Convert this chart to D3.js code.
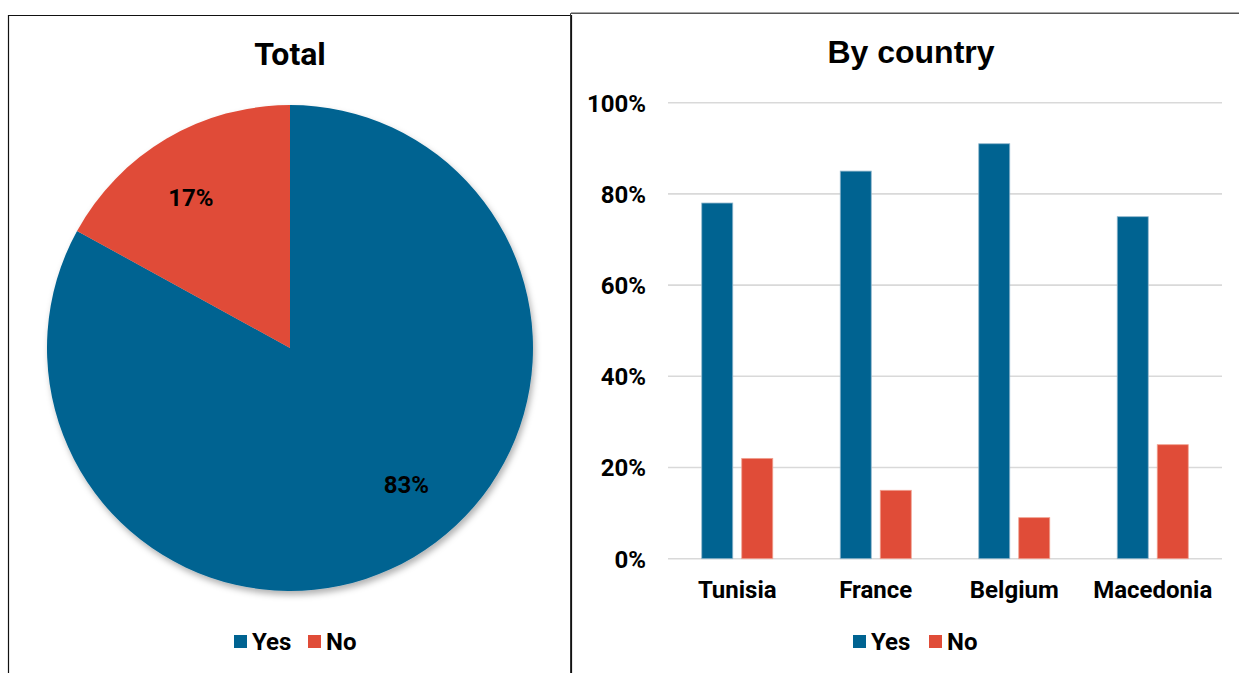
<!DOCTYPE html>
<html><head><meta charset="utf-8">
<script src="https://cdn.jsdelivr.net/npm/d3@7"></script>
<style>
html,body{margin:0;padding:0;background:#fff;}
svg{display:block;}
</style></head>
<body>
<svg id="c" width="1239" height="673"></svg>
<script>
const pieLabels = ["Yes", "No"];
const pieValues = [83, 17];
const countries = ["Tunisia", "France", "Belgium", "Macedonia"];
const yesValues = [78, 85, 91, 75];
const noValues = [22, 15, 9, 25];
const seriesNames = ["Yes", "No"];
const yTicks = [0, 20, 40, 60, 80, 100];
const colors = ["#006391", "#E04C38"];

const svg = d3.select("#c");
const defs = svg.append("defs");
const f = defs.append("filter").attr("id","sh").attr("x","-20%").attr("y","-20%").attr("width","140%").attr("height","140%");
f.append("feDropShadow").attr("dx",2).attr("dy",4).attr("stdDeviation",3).attr("flood-color","#000").attr("flood-opacity",0.3);

// panel borders
svg.append("path").attr("d","M8.5,700 V15.5 H571.5 V700").attr("fill","none").attr("stroke","#111").attr("stroke-width",1.2);
svg.append("path").attr("d","M570.5,700 V13.5 H1245").attr("fill","none").attr("stroke","#333").attr("stroke-width",1);
svg.append("line").attr("x1",571).attr("x2",1245).attr("y1",13.3).attr("y2",13.3).attr("stroke","#555").attr("stroke-width",1.6);

const roboto = "Roboto, 'Liberation Sans', sans-serif";
// ---- Pie ----
svg.append("text").attr("x",290).attr("y",65).attr("text-anchor","middle")
  .attr("font-family",roboto).attr("font-weight",700).attr("font-size",32).text("Total");

const cx = 290, cy = 348, R = 243;
const pie = d3.pie().sort(null).value(d => d)(pieValues);
const arc = d3.arc().innerRadius(0).outerRadius(R);
const gp = svg.append("g").attr("transform",`translate(${cx},${cy})`);
gp.append("g").attr("filter","url(#sh)").selectAll("path").data(pie).join("path")
  .attr("d",arc).attr("fill",(d,i)=>colors[i]);
gp.selectAll("text").data(pie).join("text")
  .attr("transform",(d,i)=>{
    const a = (d.startAngle+d.endAngle)/2 + (i===0 ? -0.17 : -0.05);
    const r = R*0.74;
    return `translate(${r*Math.sin(a)},${-r*Math.cos(a)})`;
  })
  .attr("text-anchor","middle").attr("dy","0.35em")
  .attr("font-family",roboto).attr("font-weight",700).attr("font-size",24)
  .text(d=>d.value+"%");

// left legend
const ll = svg.append("g").attr("font-family",roboto).attr("font-weight",700).attr("font-size",24);
[[234,"Yes"],[308,"No"]].forEach(([x,t],i)=>{
  ll.append("rect").attr("x",x).attr("y",635).attr("width",13).attr("height",13).attr("fill",colors[i]);
  ll.append("text").attr("x",x+18).attr("y",650).text(seriesNames[i]);
});

// ---- Bars ----
svg.append("text").attr("x",911).attr("y",63).attr("text-anchor","middle")
  .attr("font-family","'Liberation Sans', Arial, sans-serif").attr("font-weight",700).attr("font-size",32).text("By country");

const x0 = d3.scaleBand().domain(countries).range([668,1222]).padding(0);
const y = d3.scaleLinear().domain([0,100]).range([558.7,102.7]);
const gAxis = svg.append("g");
gAxis.selectAll("line").data(yTicks).join("line")
  .attr("x1",668).attr("x2",1222).attr("y1",d=>y(d)).attr("y2",d=>y(d))
  .attr("stroke","#d9d9d9").attr("stroke-width",1.6);
const yAxis = d3.axisLeft(y).tickValues(yTicks).tickFormat(d=>d+"%").tickSize(0).tickPadding(0);
const ya = svg.append("g").attr("transform","translate(646,0)").call(yAxis);
ya.select(".domain").remove();
ya.selectAll("text").attr("font-family",roboto).attr("font-weight",700).attr("font-size",24).attr("fill","#000").attr("dy","0.35em");

const barW = 31, gap = 9;
const data = countries.map((c,i)=>({c, vals:[yesValues[i], noValues[i]]}));
const gb = svg.append("g");
data.forEach(d=>{
  const center = x0(d.c) + x0.bandwidth()/2;
  d.vals.forEach((v,j)=>{
    const bx = j===0 ? center - gap/2 - barW : center + gap/2;
    gb.append("rect").attr("x",bx).attr("y",y(v)).attr("width",barW).attr("height",y(0)-y(v))
      .attr("fill",colors[j]).attr("stroke", j===0 ? "#8fb6cc" : "#f0a090").attr("stroke-width",0.8);
  });
});

const xAxis = d3.axisBottom(x0).tickSize(0).tickPadding(0);
const xa = svg.append("g").attr("transform","translate(0,590)").call(xAxis);
xa.select(".domain").remove();
xa.selectAll("text").attr("font-family",roboto).attr("font-weight",700).attr("font-size",24).attr("fill","#000").attr("dy","0.35em");

// right legend
const rl = svg.append("g").attr("font-family",roboto).attr("font-weight",700).attr("font-size",24);
[[853,"Yes"],[929,"No"]].forEach(([x,t],i)=>{
  rl.append("rect").attr("x",x).attr("y",635).attr("width",13).attr("height",13).attr("fill",colors[i]);
  rl.append("text").attr("x",x+18).attr("y",650).text(seriesNames[i]);
});
</script>
</body></html>
